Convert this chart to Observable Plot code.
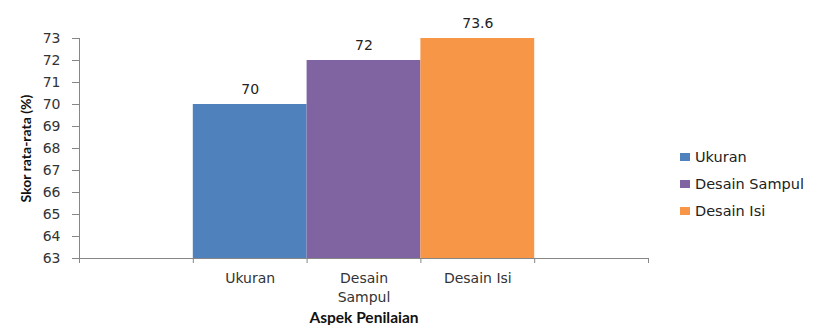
<!DOCTYPE html>
<html>
<head>
<meta charset="utf-8">
<script src="https://cdn.jsdelivr.net/npm/d3@7"></script>
<script src="https://cdn.jsdelivr.net/npm/@observablehq/plot@0.6"></script>
<style>
  body { margin: 0; background: #fff; }
  #chart { position: relative; width: 814px; height: 325px; }
  #chart g[aria-label="x-axis label"] text,
  #chart g[aria-label="y-axis label"] text {
    font-family: Lato, "Open Sans", sans-serif;
    font-weight: bold;
    fill: #111;
  }
  #chart g[aria-label="x-axis label"] text { font-size: 15.5px; }
  #chart g[aria-label="y-axis label"] text { font-size: 14px; }
  .legend { position: absolute; left: 680px; top: 143px; font-family: "DejaVu Sans", sans-serif; font-size: 14.5px; color: #222; }
  .legend div { display: flex; align-items: center; height: 27px; }
  .legend span.sw { display: inline-block; width: 10px; height: 8px; margin-right: 5px; }
</style>
</head>
<body>
<div id="chart"></div>
<script>
// Aspect categories and their average scores (%)
const categories = ["Ukuran", "Desain Sampul", "Desain Isi"];
const scores = [70, 72, 73.6];
const colors = ["#4F81BD", "#8064A2", "#F79646"];
const yTicks = d3.range(63, 74);
const yMin = 63, yMax = 73;

// Each category occupies one slot on a 0–5 axis, leaving an empty slot on either side
const slotEdges = d3.range(0, categories.length + 3);
const slotCenters = categories.map((_, i) => i + 1.5);

const axisGrey = "#868686";

const plot = Plot.plot({
  width: 814,
  height: 325,
  marginLeft: 79,
  marginRight: 166,
  marginTop: 38,
  marginBottom: 67,
  style: { fontFamily: "DejaVu Sans, sans-serif", fontSize: "14px", color: "#333", background: "#fff" },
  x: { domain: [0, categories.length + 2] },
  y: { domain: [yMin, yMax] },
  color: { domain: categories, range: colors },
  marks: [
    Plot.rectY(categories, {
      x1: (d, i) => i + 1,
      x2: (d, i) => i + 2,
      y1: yMin,
      y2: (d, i) => scores[i],
      fill: d => d,
      clip: true
    }),
    Plot.ruleY([yMin], { stroke: axisGrey }),
    Plot.ruleX([0], { stroke: axisGrey }),
    Plot.axisY(yTicks, {
      tickSize: 7,
      tickPadding: 12,
      stroke: axisGrey,
      fontSize: 14,
      label: "Skor rata-rata (%)",
      labelAnchor: "center",
      labelArrow: false,
      labelOffset: 58
    }),
    Plot.axisX(slotEdges, {
      tickSize: 5,
      stroke: axisGrey,
      tickFormat: () => "",
      label: null
    }),
    Plot.axisX(slotCenters, {
      tickSize: 0,
      tickPadding: 12,
      fontSize: 14,
      lineWidth: 5,
      lineHeight: 1.3,
      tickFormat: d => categories[slotCenters.indexOf(d)],
      label: "Aspek Penilaian",
      labelAnchor: "center",
      labelArrow: false,
      labelOffset: 64
    }),
    // value labels sit just above each (possibly clipped) bar top
    Plot.text(scores, {
      x: (d, i) => i + 1.5,
      y: d => Math.min(d, yMax),
      text: d => String(d),
      dy: -15,
      fontSize: 14,
      fill: "#222"
    })
  ]
});

const chart = document.getElementById("chart");
chart.appendChild(plot);

// Legend built from the same categories and colours
const legend = document.createElement("div");
legend.className = "legend";
categories.forEach((c, i) => {
  const row = document.createElement("div");
  const sw = document.createElement("span");
  sw.className = "sw";
  sw.style.background = colors[i];
  row.appendChild(sw);
  row.appendChild(document.createTextNode(c));
  legend.appendChild(row);
});
chart.appendChild(legend);
</script>
</body>
</html>
